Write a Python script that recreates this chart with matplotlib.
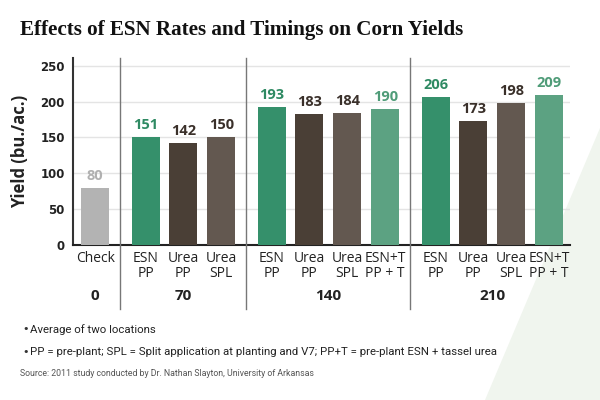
import matplotlib
matplotlib.use('Agg')
import matplotlib.pyplot as plt
from matplotlib.patches import Polygon
import numpy as np

# data
rates = ['0', '70', '140', '210']
group_sizes = [1, 3, 4, 4]
treatments = ['Check',
              'ESN\nPP', 'Urea\nPP', 'Urea\nSPL',
              'ESN\nPP', 'Urea\nPP', 'Urea\nSPL', 'ESN+T\nPP + T',
              'ESN\nPP', 'Urea\nPP', 'Urea\nSPL', 'ESN+T\nPP + T']
yields = [80, 151, 142, 150, 193, 183, 184, 190, 206, 173, 198, 209]
kinds = ['check', 'esn', 'urea_pp', 'urea_spl',
         'esn', 'urea_pp', 'urea_spl', 'esnt',
         'esn', 'urea_pp', 'urea_spl', 'esnt']
notes = ['Average of two locations',
         'PP = pre-plant; SPL = Split application at planting and V7; PP+T = pre-plant ESN + tassel urea']
source = 'Source: 2011 study conducted by Dr. Nathan Slayton, University of Arkansas'

bar_colors = {'check': '#b3b3b3', 'esn': '#35906b', 'urea_pp': '#4a3f36',
              'urea_spl': '#635850', 'esnt': '#5ca282'}
text_colors = {'check': '#b0b0b0', 'esn': '#2f8a63', 'urea_pp': '#3a302a',
               'urea_spl': '#3a302a', 'esnt': '#4f9c78'}

fig = plt.figure(figsize=(6, 4), dpi=100)

# light background triangle (behind everything)
tri = Polygon([[1.0, 0.68], [1.0, 0.0], [0.808, 0.0]], closed=True,
              transform=fig.transFigure, facecolor='#f0f5ee',
              edgecolor='none', zorder=-5)
fig.add_artist(tri)

ax = fig.add_axes([0.122, 0.3875, 0.828, 0.468])
ax.patch.set_alpha(0)

# bar positions with extra gap between rate groups
gap = 0.33
xs = []
x = 0.0
for g, n in enumerate(group_sizes):
    for i in range(n):
        xs.append(x)
        x += 1
    x += gap
xs = np.array(xs)

colors = [bar_colors[k] for k in kinds]
ax.bar(xs, yields, width=0.74, color=colors, zorder=3)
for xi, v, k in zip(xs, yields, kinds):
    ax.text(xi, v + 7, str(v), ha='center', va='bottom', fontsize=10.5,
            fontweight='bold', color=text_colors[k], family='Open Sans')

ax.set_ylim(0, 261)
ax.set_xlim(xs[0] - 0.58, xs[-1] + 0.55)
ax.set_yticks([0, 50, 100, 150, 200, 250])
ax.tick_params(axis='y', length=0, labelsize=8.5, colors='#222222', pad=6)
ax.tick_params(axis='x', length=0, labelsize=10, colors='#222222', pad=4)
for lbl in ax.get_yticklabels():
    lbl.set_fontweight('bold')
ax.set_xticks(xs)
ax.set_xticklabels(treatments, family='Open Sans', linespacing=1.0)
ax.yaxis.grid(True, color='#e4e4e4', linewidth=1.0, zorder=0)
ax.set_axisbelow(True)
for s in ['top', 'right']:
    ax.spines[s].set_visible(False)
ax.spines['left'].set_color('#333333')
ax.spines['bottom'].set_color('#222222')
ax.spines['left'].set_linewidth(1.5)
ax.spines['bottom'].set_linewidth(1.5)

ax.set_ylabel('Yield (bu./ac.)', fontsize=12, fontweight='bold', color='#222222',
              family='Open Sans', labelpad=8)

# group dividers and rate labels
trans = ax.get_xaxis_transform()
start = 0
for g, n in enumerate(group_sizes):
    grp = xs[start:start + n]
    ax.text(grp.mean(), -0.27, rates[g], transform=trans, ha='center', va='center',
            fontsize=11, fontweight='bold', color='#222222', family='Open Sans')
    if g > 0:
        xd = (xs[start - 1] + xs[start]) / 2
        ax.plot([xd, xd], [-0.34, 1.0], transform=trans, color='#777777',
                linewidth=1.0, clip_on=False, zorder=4)
    start += n

fig.text(0.033, 0.925, 'Effects of ESN Rates and Timings on Corn Yields',
         fontsize=15.2, fontweight='bold', family='Liberation Serif', color='#111111',
         va='center')

for i, note in enumerate(notes):
    yy = 0.177 - i * 0.057
    fig.text(0.037, yy, '\u2022', fontsize=8, color='#333333', va='center')
    fig.text(0.05, yy, note, fontsize=8.2, color='#222222', va='center', family='Roboto')

fig.text(0.033, 0.065, source, fontsize=6.3, color='#555555', va='center', family='Roboto')

fig.savefig('out.png', dpi=100)
